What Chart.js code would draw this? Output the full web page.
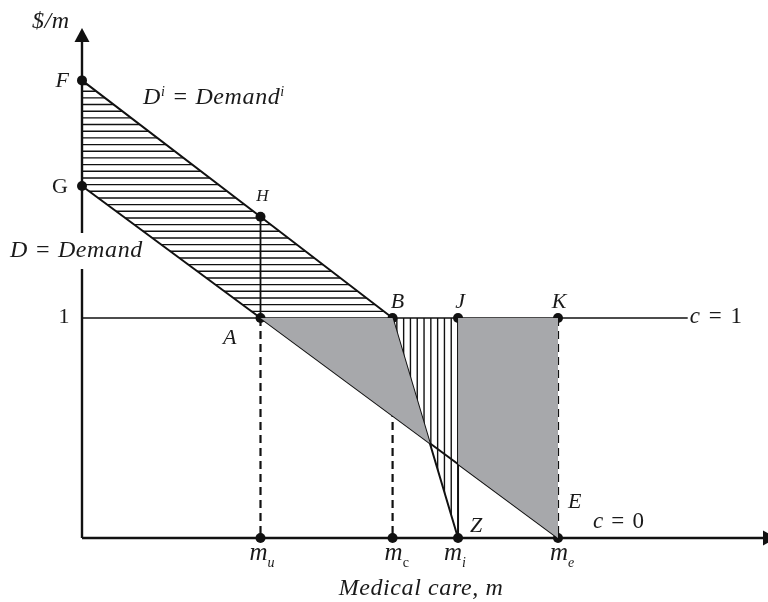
<!DOCTYPE html>
<html>
<head>
<meta charset="utf-8">
<script src="https://cdn.jsdelivr.net/npm/chart.js@4.4.1/dist/chart.umd.min.js"></script>
<style>
  html, body { margin: 0; padding: 0; background: #fff; }
  canvas { display: block; }
</style>
</head>
<body>
<canvas id="chart" width="768" height="602"></canvas>
<script>
// quantities of medical care on the horizontal axis
const qLabels = ["u", "c", "i", "e"];
const qValues = [3.0, 5.22, 6.32, 8.0];

// copayment levels (price per unit)
const copayLevels = [1, 0];

// D = Demand  (m, price)
const demandM = [0, 3.0, 8.0];
const demandP = [1.6, 1.0, 0];

// D^i = Demand^i, kinks at B and falls to Z
const demandIM = [0, 3.0, 5.22, 6.32];
const demandIP = [2.08, 1.46, 1.0, 0];

// where the c = 1 line stops
const copayLineEnd = 10.18;

const FONT = "'Liberation Serif', 'DejaVu Serif', serif";
const GREY = "#a7a8ab";

// named points
const F = { x: demandIM[0], y: demandIP[0] };
const H = { x: demandIM[1], y: demandIP[1] };
const B = { x: demandIM[2], y: demandIP[2] };
const Z = { x: demandIM[3], y: demandIP[3] };
const G = { x: demandM[0], y: demandP[0] };
const A = { x: demandM[1], y: demandP[1] };
const E = { x: demandM[2], y: demandP[2] };
const J = { x: qValues[2], y: copayLevels[0] };
const K = { x: qValues[3], y: copayLevels[0] };

// price on demand D at quantity m
function demandAt(m) {
  const slope = (demandP[2] - demandP[0]) / (demandM[2] - demandM[0]);
  return demandP[0] + slope * (m - demandM[0]);
}

// intersection of segment B-Z with D
const bzSlope = (Z.y - B.y) / (Z.x - B.x);
const dSlope = (demandP[2] - demandP[0]) / (demandM[2] - demandM[0]);
const crossX = (demandP[0] - B.y + bzSlope * B.x) / (bzSlope - dSlope);
const X = { x: crossX, y: demandAt(crossX) };
const Y = { x: J.x, y: demandAt(J.x) };

function seg(p, q, opts) {
  return Object.assign({
    type: "line",
    data: [p, q],
    borderColor: "#111",
    borderWidth: 1.6,
    pointRadius: 0,
    fill: false
  }, opts || {});
}

function poly(pts) {
  return {
    type: "line",
    data: pts,
    borderWidth: 0,
    borderColor: "rgba(0,0,0,0)",
    backgroundColor: GREY,
    pointRadius: 0,
    fill: "shape"
  };
}

const dashed = [A, B, K].map((p) => seg(p, { x: p.x, y: 0 }, { borderDash: [8, 5], borderWidth: 2.2 }));

const dots = [F, G, H, A, B, J, K, Z, E].concat(qValues.slice(0, 2).map((v) => ({ x: v, y: 0 })));

// hatch areas: [polygon, direction, spacing px]
const hatchAreas = [
  { pts: [F, B, A, G], dir: "h", gap: 6.67 },
  { pts: [B, J, Z], dir: "v", gap: 6.8 }
];

const hatchPlugin = {
  id: "hatch",
  beforeDatasetsDraw(chart) {
    const { ctx, scales } = chart;
    const xs = scales.x, ys = scales.y;
    hatchAreas.forEach((area) => {
      const px = area.pts.map((p) => [xs.getPixelForValue(p.x), ys.getPixelForValue(p.y)]);
      ctx.save();
      ctx.beginPath();
      px.forEach((p, i) => (i ? ctx.lineTo(p[0], p[1]) : ctx.moveTo(p[0], p[1])));
      ctx.closePath();
      ctx.clip();
      ctx.strokeStyle = "#111";
      ctx.lineWidth = 1.4;
      ctx.beginPath();
      if (area.dir === "h") {
        const yTop = Math.min(...px.map((p) => p[1]));
        const yBot = Math.max(...px.map((p) => p[1]));
        for (let y = yBot - area.gap; y > yTop; y -= area.gap) {
          ctx.moveTo(0, y);
          ctx.lineTo(chart.width, y);
        }
      } else {
        const xL = Math.min(...px.map((p) => p[0]));
        const xR = Math.max(...px.map((p) => p[0]));
        for (let x = xR - area.gap; x > xL; x -= area.gap) {
          ctx.moveTo(x, 0);
          ctx.lineTo(x, chart.height);
        }
      }
      ctx.stroke();
      ctx.restore();
    });

    // axes with arrow heads
    const x0 = xs.getPixelForValue(0), y0 = ys.getPixelForValue(0);
    ctx.save();
    ctx.strokeStyle = "#111";
    ctx.fillStyle = "#111";
    ctx.lineWidth = 2.4;
    ctx.beginPath();
    ctx.moveTo(x0, y0);
    ctx.lineTo(x0, 40);
    ctx.moveTo(x0, y0);
    ctx.lineTo(765, y0);
    ctx.stroke();
    ctx.beginPath();
    ctx.moveTo(x0, 28);
    ctx.lineTo(x0 - 7.5, 42);
    ctx.lineTo(x0 + 7.5, 42);
    ctx.closePath();
    ctx.fill();
    ctx.beginPath();
    ctx.moveTo(777, y0);
    ctx.lineTo(763, y0 - 7.5);
    ctx.lineTo(763, y0 + 7.5);
    ctx.closePath();
    ctx.fill();
    ctx.restore();
  }
};

// rich text: parts = [text, size, italic, raise]
function drawRich(ctx, x, y, parts, align, spacing) {
  ctx.letterSpacing = (spacing || 0) + "px";
  let w = 0;
  parts.forEach((p) => {
    ctx.font = (p[2] ? "italic " : "") + p[1] + "px " + FONT;
    w += ctx.measureText(p[0]).width;
  });
  let cx = align === "center" ? x - w / 2 : align === "right" ? x - w : x;
  parts.forEach((p) => {
    ctx.font = (p[2] ? "italic " : "") + p[1] + "px " + FONT;
    ctx.fillText(p[0], cx, y - (p[3] || 0));
    cx += ctx.measureText(p[0]).width;
  });
  ctx.letterSpacing = "0px";
  return w;
}

const labelPlugin = {
  id: "labels",
  afterDatasetsDraw(chart) {
    const { ctx, scales } = chart;
    const px = (p) => [scales.x.getPixelForValue(p.x), scales.y.getPixelForValue(p.y)];
    ctx.save();
    ctx.textBaseline = "alphabetic";

    // white gap in the axis behind "D = Demand"
    ctx.fillStyle = "#fff";
    ctx.fillRect(76, 233, 12, 36);
    ctx.fillStyle = "#1a1a1a";

    drawRich(ctx, 32, 28, [["$/m", 24, true]], "left", 0.5);
    let p = px(F);
    drawRich(ctx, p[0] - 13, p[1] + 7, [["F", 22, true]], "right");
    p = px(G);
    drawRich(ctx, p[0] - 14, p[1] + 7, [["G", 22, false]], "right");
    drawRich(ctx, 143, 104, [["D", 24, true], ["i", 14, true, 8], [" = Demand", 24, true], ["i", 14, true, 8]], "left", 0.6);
    p = px(H);
    drawRich(ctx, p[0] + 2, p[1] - 16, [["H", 17, true]], "center");
    drawRich(ctx, 10, 257, [["D = Demand", 24, true]], "left", 0.6);
    p = px(A);
    drawRich(ctx, p[0] - 191, p[1] + 5, [["1", 22, false]], "right");
    drawRich(ctx, p[0] - 24, p[1] + 26, [["A", 22, true]], "right");
    p = px(B);
    drawRich(ctx, p[0] + 5, p[1] - 10, [["B", 22, true]], "center");
    p = px(J);
    drawRich(ctx, p[0] + 2, p[1] - 10, [["J", 22, true]], "center");
    p = px(K);
    drawRich(ctx, p[0] + 1, p[1] - 10, [["K", 22, true]], "center");
    drawRich(ctx, scales.x.getPixelForValue(copayLineEnd) + 2, p[1] + 5, [["c", 23, true], [" = 1", 23, false]], "left", 1.5);
    p = px(E);
    drawRich(ctx, p[0] + 10, p[1] - 30, [["E", 22, true]]);
    drawRich(ctx, p[0] + 35, p[1] - 10, [["c", 23, true], [" = 0", 23, false]], "left", 1.2);
    p = px(Z);
    drawRich(ctx, p[0] + 12, p[1] - 6, [["Z", 22, true]]);

    const subOff = [-11, -8, -14, -8];
    qValues.forEach((v, i) => {
      const q = px({ x: v, y: 0 });
      drawRich(ctx, q[0] + subOff[i], q[1] + 22, [["m", 25, true], [qLabels[i], 14, qLabels[i] !== "c", -7]]);
    });
    drawRich(ctx, 421, 595, [["Medical care, m", 24, true]], "center", 0.6);
    ctx.restore();
  }
};

const datasets = [
  poly([A, B, X]),
  poly([J, K, E, Y]),
  seg(H, A, { borderWidth: 1.8 }),
  seg(J, Z, { borderWidth: 2 }),
  seg({ x: 0, y: copayLevels[0] }, { x: copayLineEnd, y: copayLevels[0] }, { borderWidth: 1.5 }),
  ...dashed,
  {
    type: "line",
    data: demandM.map((m, i) => ({ x: m, y: demandP[i] })),
    borderColor: "#111", borderWidth: 2, pointRadius: 0, fill: false
  },
  {
    type: "line",
    data: demandIM.map((m, i) => ({ x: m, y: demandIP[i] })),
    borderColor: "#111", borderWidth: 2, pointRadius: 0, fill: false
  },
  {
    type: "scatter",
    data: dots,
    pointRadius: 5,
    pointBackgroundColor: "#111",
    pointBorderWidth: 0,
    showLine: false
  }
];

new Chart(document.getElementById("chart"), {
  type: "scatter",
  data: { datasets: datasets },
  options: {
    responsive: false,
    animation: false,
    layout: { padding: 0, autoPadding: false },
    plugins: { legend: { display: false }, tooltip: { enabled: false } },
    elements: { line: { tension: 0 } },
    scales: {
      x: { type: "linear", display: false, min: -82 / 59.5, max: (768 - 82) / 59.5 },
      y: { type: "linear", display: false, min: -64 / 220, max: 538 / 220 }
    }
  },
  plugins: [hatchPlugin, labelPlugin]
});
</script>
</body>
</html>
